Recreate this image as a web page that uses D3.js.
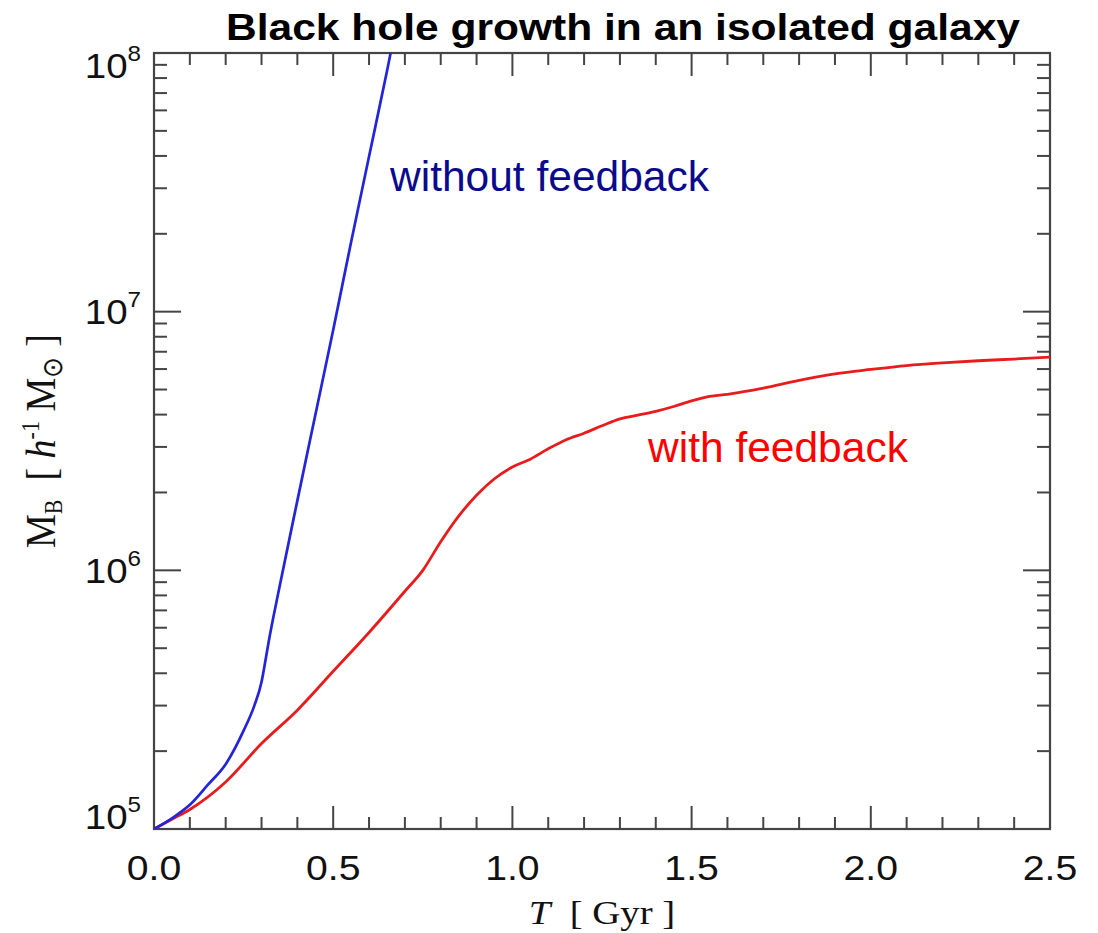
<!DOCTYPE html>
<html>
<head>
<meta charset="utf-8">
<script src="https://cdn.jsdelivr.net/npm/d3@7"></script>
<style>
  html, body { margin: 0; padding: 0; background: #fff; }
  svg { display: block; }
</style>
</head>
<body>
<svg id="chart" width="1098" height="933"></svg>
<script>
// Time since start of the run [Gyr] and black hole mass [h^-1 Msun]
const tNoFeedback = [0, 0.05, 0.10, 0.15, 0.20, 0.25, 0.28, 0.30, 0.31, 0.32, 0.35, 0.40, 0.45, 0.50, 0.55, 0.60, 0.65, 0.67];
const mNoFeedback = [1.00e5, 1.10e5, 1.24e5, 1.48e5, 1.78e5, 2.40e5, 3.00e5, 3.70e5, 4.40e5, 5.30e5, 8.60e5, 1.86e6, 3.98e6, 8.50e6, 1.86e7, 3.98e7, 8.50e7, 1.17e8];

const tFeedback = [0, 0.05, 0.10, 0.20, 0.30, 0.40, 0.50, 0.60, 0.70, 0.75, 0.80, 0.85, 0.90, 0.95, 1.00, 1.05, 1.10, 1.15, 1.20, 1.25, 1.30, 1.35, 1.40, 1.45, 1.50, 1.55, 1.60, 1.70, 1.80, 1.90, 2.00, 2.10, 2.20, 2.30, 2.40, 2.50];
const mFeedback = [1.00e5, 1.09e5, 1.19e5, 1.52e5, 2.14e5, 2.88e5, 4.07e5, 5.75e5, 8.30e5, 1.00e6, 1.29e6, 1.62e6, 1.95e6, 2.26e6, 2.51e6, 2.69e6, 2.95e6, 3.20e6, 3.39e6, 3.62e6, 3.85e6, 3.98e6, 4.12e6, 4.30e6, 4.52e6, 4.70e6, 4.79e6, 5.06e6, 5.43e6, 5.75e6, 5.98e6, 6.19e6, 6.34e6, 6.46e6, 6.56e6, 6.67e6];

const xTickValues = [0.0, 0.5, 1.0, 1.5, 2.0, 2.5];
const xTickLabels = ["0.0", "0.5", "1.0", "1.5", "2.0", "2.5"];
const yTickValues = [1e5, 1e6, 1e7, 1e8];
const yTickExponents = ["5", "6", "7", "8"];

const titleText = "Black hole growth in an isolated galaxy";
const labelNoFeedback = "without feedback";
const labelFeedback = "with feedback";

const svg = d3.select("#chart");
const plot = { left: 154, right: 1050, top: 53, bottom: 829 };

const x = d3.scaleLinear().domain([0, 2.5]).range([plot.left, plot.right]);
const y = d3.scaleLog().domain([1e5, 1e8]).range([plot.bottom, plot.top]);

const axisColor = "#444";

// clip for the curves
svg.append("defs").append("clipPath").attr("id", "plotClip")
  .append("rect")
  .attr("x", plot.left).attr("y", plot.top)
  .attr("width", plot.right - plot.left).attr("height", plot.bottom - plot.top);

// frame
svg.append("rect")
  .attr("x", plot.left).attr("y", plot.top)
  .attr("width", plot.right - plot.left).attr("height", plot.bottom - plot.top)
  .attr("fill", "none").attr("stroke", axisColor).attr("stroke-width", 2.2);

// x ticks: major every 0.5, minor every 0.1, mirrored on top
const xMinor = d3.range(0, 26).map(i => i / 10);
const ticks = svg.append("g").attr("stroke", axisColor).attr("stroke-width", 2);
xMinor.forEach(v => {
  const major = Math.abs(v * 2 - Math.round(v * 2)) < 1e-6;
  const len = major ? 23 : 12;
  const px = x(v);
  ticks.append("line").attr("x1", px).attr("x2", px).attr("y1", plot.bottom).attr("y2", plot.bottom - len);
  ticks.append("line").attr("x1", px).attr("x2", px).attr("y1", plot.top).attr("y2", plot.top + len);
});

// y ticks: decades major, 2..9 minor, mirrored on right
y.ticks().forEach(v => {
  const e = Math.log10(v);
  const major = Math.abs(e - Math.round(e)) < 1e-6;
  const len = major ? 27 : 13;
  const py = y(v);
  ticks.append("line").attr("x1", plot.left).attr("x2", plot.left + len).attr("y1", py).attr("y2", py);
  ticks.append("line").attr("x1", plot.right).attr("x2", plot.right - len).attr("y1", py).attr("y2", py);
});

// x tick labels
const tickFont = "'Liberation Sans', Arial, Helvetica, sans-serif";
xTickValues.forEach((v, i) => {
  svg.append("g")
    .attr("transform", `translate(${x(v)},880) scale(1.12,1)`)
    .append("text")
    .attr("text-anchor", "middle")
    .attr("font-family", tickFont)
    .attr("font-size", 35)
    .attr("fill", "#111")
    .text(xTickLabels[i]);
});

// y tick labels as 10^n, kept within the axis extent
yTickValues.forEach((v, i) => {
  const base = Math.max(plot.top + 25, Math.min(plot.bottom, y(v) + 12.5));
  const t = svg.append("g")
    .attr("transform", `translate(141,${base}) scale(1.1,1)`)
    .append("text")
    .attr("text-anchor", "end")
    .attr("font-family", tickFont)
    .attr("fill", "#111");
  t.append("tspan").attr("font-size", 35).text("10");
  t.append("tspan").attr("font-size", 22).attr("dy", -17).text(yTickExponents[i]);
});

// curves
const line = d3.line().x(d => x(d[0])).y(d => y(d[1])).curve(d3.curveMonotoneX);
const curves = svg.append("g").attr("clip-path", "url(#plotClip)");
curves.append("path")
  .datum(tFeedback.map((t, i) => [t, mFeedback[i]]))
  .attr("d", line)
  .attr("fill", "none").attr("stroke", "#e81c1c").attr("stroke-width", 2.8)
  .attr("stroke-linejoin", "round");
curves.append("path")
  .datum(tNoFeedback.map((t, i) => [t, mNoFeedback[i]]))
  .attr("d", line)
  .attr("fill", "none").attr("stroke", "#2424d8").attr("stroke-width", 2.7)
  .attr("stroke-linejoin", "round");

// annotations
svg.append("text")
  .attr("x", 390).attr("y", 191)
  .attr("font-family", "Arial, 'Liberation Sans', sans-serif")
  .attr("font-size", 42.5)
  .attr("fill", "#0a0a8c")
  .text(labelNoFeedback);
svg.append("text")
  .attr("x", 648).attr("y", 462)
  .attr("font-family", "Arial, 'Liberation Sans', sans-serif")
  .attr("font-size", 42.5)
  .attr("fill", "#ff0000")
  .text(labelFeedback);

// title
svg.append("text")
  .attr("x", 226).attr("y", 40)
  .attr("font-family", "Arial, 'Liberation Sans', sans-serif")
  .attr("font-weight", "bold")
  .attr("font-size", 36)
  .attr("textLength", 794).attr("lengthAdjust", "spacingAndGlyphs")
  .attr("fill", "#000")
  .text(titleText);

// axis titles
const serif = "'Liberation Serif', 'Times New Roman', Times, serif";
const xt = svg.append("g")
  .attr("transform", `translate(${(plot.left + plot.right) / 2},924) scale(1.14,1)`)
  .append("text")
  .attr("text-anchor", "middle")
  .attr("font-family", serif)
  .attr("font-size", 34)
  .attr("fill", "#111")
  .attr("xml:space", "preserve");
xt.append("tspan").attr("font-style", "italic").text("T");
xt.append("tspan").text("  [ Gyr ]");

const yt = svg.append("g")
  .attr("transform", `translate(55,${(plot.top + plot.bottom) / 2}) rotate(-90) scale(1,1.12)`)
  .append("text")
  .attr("text-anchor", "middle")
  .attr("font-family", serif)
  .attr("font-size", 38)
  .attr("fill", "#111")
  .attr("xml:space", "preserve");
yt.append("tspan").text("M");
yt.append("tspan").attr("font-size", 22).attr("dy", 6).text("B");
yt.append("tspan").attr("dy", -6).text("  [ ");
yt.append("tspan").attr("font-style", "italic").text("h");
yt.append("tspan").attr("font-size", 22).attr("dy", -14).text("-1");
yt.append("tspan").attr("dy", 14).text(" M");
yt.append("tspan").attr("font-size", 25).attr("dy", 6).text("\u2299");
yt.append("tspan").attr("dy", -6).text(" ]");
</script>
</body>
</html>
